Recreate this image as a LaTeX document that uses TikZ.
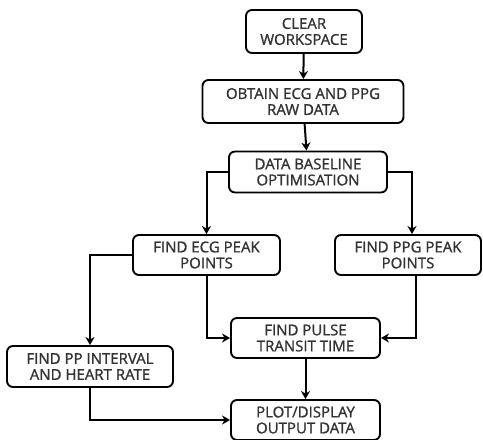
\documentclass[tikz,border=0pt]{standalone}
\usepackage{fontspec}
\setmainfont{Open Sans}[AutoFakeBold=1.2]
\usetikzlibrary{arrows.meta}
\tikzset{
  step box/.style={
    rounded corners=6pt,
    draw,
    line width=1.9pt,
    align=center,
    inner sep=0pt,
    font=\bfseries\fontsize{15}{16}\selectfont,
    text=black!80,
  },
  flow/.style={
    line width=2pt,
    -{Stealth[length=8pt,width=9pt,inset=2.5pt]},
  },
}

\begin{document}
\begin{tikzpicture}[x=1pt, y=-1pt]
        \useasboundingbox (0,0) rectangle (483,440);
        \node[step box, minimum width=116, minimum height=43] (clear)  at (304,31.5)  {CLEAR\\WORKSPACE};
        \node[step box, minimum width=201, minimum height=43] (obtain) at (303,101.5) {OBTAIN ECG AND PPG\\RAW DATA};
        \node[step box, minimum width=158, minimum height=41] (base)   at (308,172)   {DATA BASELINE\\OPTIMISATION};
        \node[step box, minimum width=147, minimum height=40] (ecg)    at (206.5,255) {FIND ECG PEAK\\POINTS};
        \node[step box, minimum width=146, minimum height=40] (ppg)    at (408,255)   {FIND PPG PEAK\\POINTS};
        \node[step box, minimum width=149, minimum height=40] (ptt)    at (305.5,338) {FIND PULSE\\TRANSIT TIME};
        \node[step box, minimum width=166, minimum height=41] (pp)     at (90,366.5)  {FIND PP INTERVAL\\AND HEART RATE};
        \node[step box, minimum width=149, minimum height=40] (plot)   at (305.5,420) {PLOT/DISPLAY\\OUTPUT DATA};

        \draw[flow] (clear)  to (obtain);
        \draw[flow] (obtain) to (base);

        \draw[flow] (base.west) -| (ecg.north);
        \draw[flow] (base.east) -| ([xshift=4]ppg.north);

        \draw[flow] (ecg.west)  -| (pp.north);
        \draw[flow] (ecg.south) |- (ptt.west);
        \draw[flow] ([xshift=8]ppg.south) |- (ptt.east);

        \draw[flow] (ptt.south) to (plot.north);
        \draw[flow] (pp.south)  |- (plot.west);
      \end{tikzpicture}
\end{document}
